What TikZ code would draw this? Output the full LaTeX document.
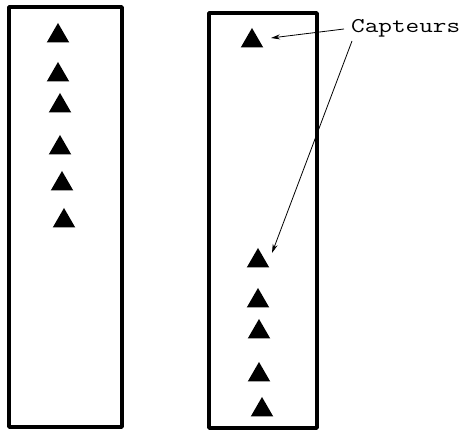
\documentclass[tikz,border=0pt]{standalone}
\usepackage{graphicx}
\usetikzlibrary{shapes.geometric,arrows.meta}
\tikzset{
  sensor/.style={regular polygon, regular polygon sides=3, minimum size=26pt, inner sep=0pt, fill=black, draw=none},
  wellbox/.style={draw=black, line width=3.6pt, line join=round},
  callout/.style={draw=black, line width=0.8pt, -{Stealth[length=9pt,width=5pt]}}
}
\begin{document}
\begin{tikzpicture}[x=1pt,y=-1pt]
\useasboundingbox (0,0) rectangle (467,433);
% boxes
\draw[wellbox] (9,7) rectangle (122,427);
\draw[wellbox] (209,13) rectangle (317,428);
% left sensors
\node[sensor] (l1) at (58,36) {};
\node[sensor] (l2) at (58,75) {};
\node[sensor] (l3) at (60,106) {};
\node[sensor] (l4) at (60,148) {};
\node[sensor] (l5) at (62,184) {};
\node[sensor] (l6) at (64,221) {};
% right sensors
\node[sensor] (r1) at (252,41) {};
\node[sensor] (r2) at (258,261) {};
\node[sensor] (r3) at (258,301) {};
\node[sensor] (r4) at (259,332) {};
\node[sensor] (r5) at (259,375) {};
\node[sensor] (r6) at (262,410) {};
% label
\node[anchor=base west, inner sep=0pt] (cap) at (351,33) {\scalebox{1.26}[1]{\ttfamily\fontsize{21}{21}\selectfont Capteurs}};
\coordinate (a1s) at (344,29);
\coordinate (a1e) at (271,38);
\coordinate (a2s) at (352,41);
\coordinate (a2e) at (272,253);
\draw[callout] (a1s) -- (a1e);
\draw[callout] (a2s) -- (a2e);
\end{tikzpicture}
\end{document}
